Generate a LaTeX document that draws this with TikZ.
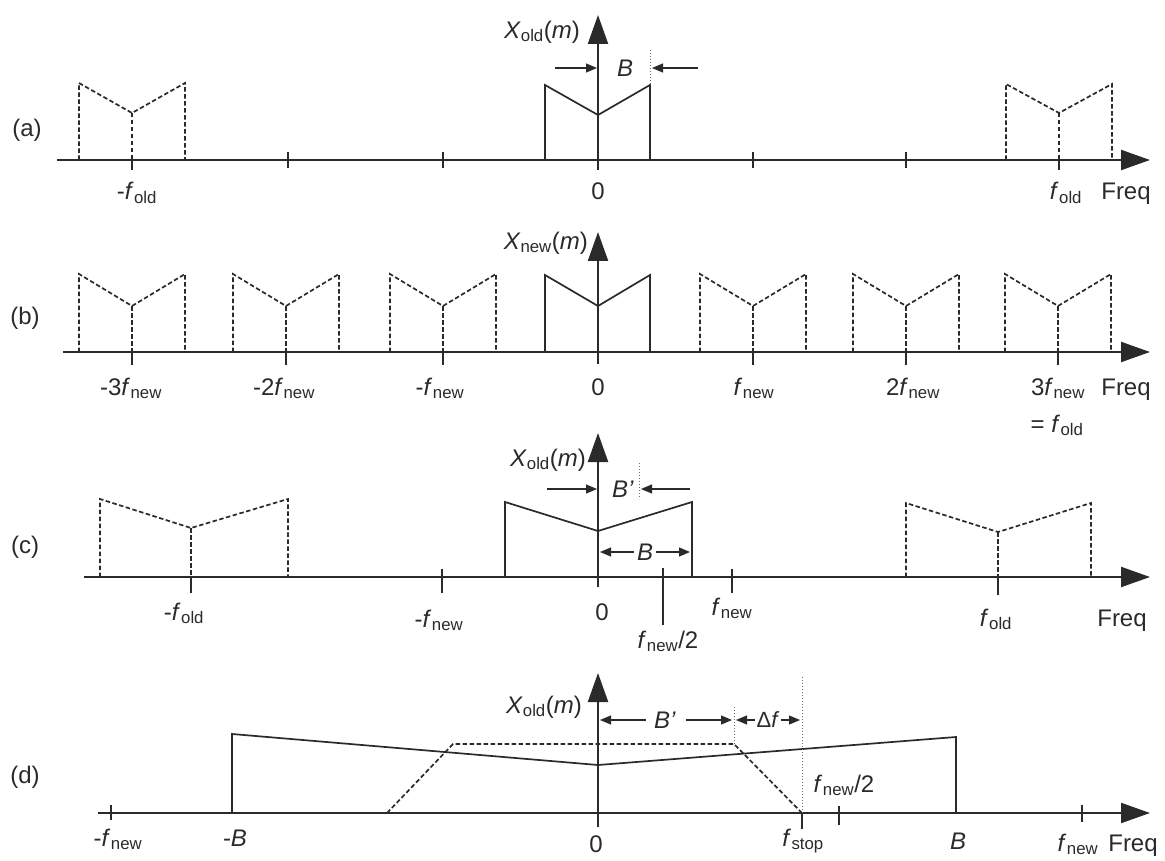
\documentclass[tikz,border=0pt]{standalone}
\usepackage{fontspec}
\setmainfont{Liberation Sans}
\usetikzlibrary{arrows.meta}
\definecolor{ink}{HTML}{2A2A2A}
\definecolor{inkl}{HTML}{6A6A6A}
\newcommand\fsub[1]{\textit{f}\kern0.5pt\textsubscript{#1}}
% bump: style, centre x, half width, top y, dip y, axis y
\newcommand\bump[6]{%
  \draw[#1] (#2-#3,#6) -- (#2-#3,#4) -- (#2,#5) -- (#2+#3,#4) -- (#2+#3,#6);
  \draw[#1] (#2,#5) -- (#2,#6);}
\begin{document}
\begin{tikzpicture}[x=1pt,y=-1pt,
  axisline/.style={line width=2.2pt, draw=ink, -{Triangle[length=29pt,width=20pt]}},
  spec/.style={line width=1.7pt, draw=ink, line join=miter},
  rep/.style={line width=1.7pt, draw=ink, dash pattern=on 4.5pt off 2.5pt},
  tickl/.style={line width=1.8pt, draw=ink},
  dim/.style={line width=1.2pt, draw=ink, -{Triangle[length=11pt,width=9pt]}},
  dotl/.style={line width=0.9pt, draw=inkl, dash pattern=on 1.2pt off 1.8pt},
  lab/.style={font=\fontsize{24}{28}\selectfont, text=ink, inner sep=0pt},
  blab/.style={lab, anchor=base}]
\useasboundingbox (0,0) rectangle (1165,861);

%% ---------------- (a) ----------------
\node[lab] (la) at (27,130) {(a)};
\draw[axisline] (57,160) -- (1150,160);
\draw[axisline] (598,170) -- (598,15);
\foreach \x in {288,443,753,906} \draw[tickl] (\x,152) -- (\x,168);
\draw[tickl] (132,160) -- (132,170);
\draw[tickl] (1059,160) -- (1059,170);
\bump{rep}{132}{53}{83}{113}{160}
\bump{rep}{1059}{53}{84}{113}{160}
\draw[spec] (545,160) -- (545,85) -- (598,115) -- (650,85) -- (650,160);
\node[lab, anchor=east] (xa) at (580,32) {\textit{X}\textsubscript{old}(\textit{m})};
\coordinate (ba1) at (555,68); \coordinate (ba2) at (597,68);
\coordinate (ba3) at (698,68); \coordinate (ba4) at (652,68);
\draw[dim] (ba1) -- (ba2);
\draw[dim] (ba3) -- (ba4);
\node[lab] (Ba) at (625,68) {\textit{B}};
\draw[dotl] (650,50) -- (650,85);
\node[blab] (a1) at (137,200) {-\fsub{old}};
\node[blab] (a2) at (598,200) {0};
\node[blab] (a3) at (1066,200) {\fsub{old}};
\node[blab] (a4) at (1126,200) {Freq};

%% ---------------- (b) ----------------
\node[lab] (lb) at (25,318) {(b)};
\draw[axisline] (63,352) -- (1150,352);
\draw[axisline] (598,364) -- (598,232);
\foreach \c in {132,286,443,753,906,1058} {
  \bump{rep}{\c}{53}{274}{306}{352}
  \draw[tickl] (\c,352) -- (\c,365);
}
\draw[spec] (545,352) -- (545,275) -- (598,306) -- (650,275) -- (650,352);
\node[lab, anchor=east] (xb) at (588,243) {\textit{X}\textsubscript{new}(\textit{m})};
\node[blab] (b1) at (131,395) {-3\fsub{new}};
\node[blab] (b2) at (284,395) {-2\fsub{new}};
\node[blab] (b3) at (440,395) {-\fsub{new}};
\node[blab] (b4) at (598,395) {0};
\node[blab] (b5) at (754,395) {\fsub{new}};
\node[blab] (b6) at (913,395) {2\fsub{new}};
\node[blab] (b7) at (1058,395) {3\fsub{new}};
\node[blab] (b8) at (1126,395) {Freq};
\node[blab] (b9) at (1057,432) {= \fsub{old}};

%% ---------------- (c) ----------------
\node[lab] (lc) at (25,547) {(c)};
\draw[axisline] (84,577) -- (1150,577);
\draw[axisline] (598,587) -- (598,433);
\draw[rep] (100,577) -- (100,499) -- (191,528) -- (288,499) -- (288,577);
\draw[rep] (191,528) -- (191,577);
\draw[rep] (906,577) -- (906,503) -- (998,532) -- (1091,503) -- (1091,577);
\draw[rep] (998,532) -- (998,577);
\draw[spec] (505,577) -- (505,502) -- (598,531) -- (692,502) -- (692,577);
\draw[tickl] (191,577) -- (191,593);
\draw[tickl] (442,569) -- (442,593);
\draw[tickl] (732,569) -- (732,593);
\draw[tickl] (998,577) -- (998,595);
\draw[line width=1.4pt, draw=ink] (663,568) -- (663,625);
\node[lab, anchor=east] (xc) at (586,460) {\textit{X}\textsubscript{old}(\textit{m})};
\draw[dim] (547,489) -- (597,489);
\draw[dim] (690,489) -- (641,489);
\node[lab] (Bc) at (623,489) {\textit{B'}};
\draw[dotl] (639,463) -- (639,499);
\node[lab] (Bc2) at (645,552) {\textit{B}};
\draw[dim] (Bc2.west) ++(-3,0) -- (600,552);
\draw[dim] (Bc2.east) ++(3,0) -- (690,552);
\node[blab] (c1) at (184,620) {-\fsub{old}};
\node[blab] (c2) at (439,627) {-\fsub{new}};
\node[blab] (c3) at (602,620) {0};
\node[blab] (c4) at (732,615) {\fsub{new}};
\node[blab] (c5) at (996,626) {\fsub{old}};
\node[blab] (c6) at (1122,626) {Freq};
\node[blab] (c7) at (668,648) {\fsub{new}/2};

%% ---------------- (d) ----------------
\node[lab] (ld) at (25,777) {(d)};
\draw[axisline] (98,813) -- (1150,813);
\draw[axisline] (598,827) -- (598,673);
\draw[rep] (387,813) -- (453,744) -- (734,744) -- (802,813);
\draw[spec] (232,813) -- (232,734) -- (598,765) -- (956,737) -- (956,813);
\draw[dotl] (734,707) -- (734,746);
\draw[dotl] (802,677) -- (802,813);
\draw[tickl] (111,805) -- (111,820);
\draw[tickl] (802,813) -- (802,829);
\draw[tickl] (839,806) -- (839,825);
\draw[tickl] (1082,805) -- (1082,822);
\node[lab, anchor=east] (xd) at (582,707) {\textit{X}\textsubscript{old}(\textit{m})};
\node[lab] (Bd) at (665,720) {\textit{B'}};
\draw[dim] (646,720) -- (600,720);
\draw[dim] (686,720) -- (732,720);
\node[lab, font=\fontsize{22}{26}\selectfont] (df) at (768,720) {Δ\textit{f}};
\draw[dim] (df.west) ++(-1,0) -- (736,720);
\draw[dim] (df.east) ++(1,0) -- (800,720);
\node[blab] (d0) at (844,792) {\fsub{new}/2};
\node[blab] (d1) at (118,846) {-\fsub{new}};
\node[blab] (d2) at (235,846) {-\textit{B}};
\node[blab] (d3) at (596,852) {0};
\node[blab] (d4) at (803,846) {\fsub{stop}};
\node[blab] (d5) at (958,849) {\textit{B}};
\node[blab] (d6) at (1078,851) {\fsub{new}};
\node[blab] (d7) at (1133,851) {Freq};
\end{tikzpicture}
\end{document}
